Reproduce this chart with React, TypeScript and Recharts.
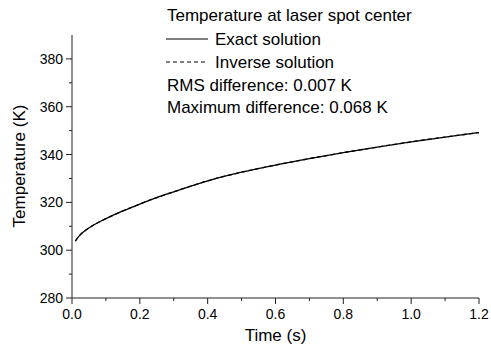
import { Label, Line, LineChart, XAxis, YAxis } from "recharts";

const FONT = "Arial, 'Liberation Sans', Helvetica, sans-serif";
const INK = "#000";
const AXIS = "#222";

// time (s) and temperature (K) at laser spot center
const timeS = [0.01, 0.02, 0.04, 0.06, 0.08, 0.1, 0.15, 0.2, 0.25, 0.3, 0.4, 0.5, 0.6, 0.7, 0.8, 0.9, 1.0, 1.1, 1.2];
const exactK = [303.8, 305.8, 308.3, 310.2, 311.8, 313.2, 316.4, 319.3, 322.0, 324.4, 329.0, 332.6, 335.6, 338.3, 340.8, 343.1, 345.3, 347.3, 349.2];
const inverseK = [303.8, 305.8, 308.3, 310.2, 311.8, 313.2, 316.4, 319.3, 322.0, 324.4, 329.0, 332.6, 335.6, 338.3, 340.8, 343.1, 345.3, 347.3, 349.2];

const xTicks = [0, 0.1, 0.2, 0.3, 0.4, 0.5, 0.6, 0.7, 0.8, 0.9, 1.0, 1.1, 1.2];
const yTicks = [280, 290, 300, 310, 320, 330, 340, 350, 360, 370, 380];

const data = timeS.map((t, i) => ({ t, exact: exactK[i], inverse: inverseK[i] }));

function XTick(props: any) {
  const { x, y, payload } = props;
  const v = payload.value as number;
  const major = Math.round(v * 10) % 2 === 0;
  return (
    <g>
      <line x1={x} x2={x} y1={y} y2={y + (major ? 6 : 3)} stroke={AXIS} />
      {major && (
        <text x={x} y={y + 21} textAnchor="middle" fontSize={14} fontFamily={FONT} fill={INK}>
          {v.toFixed(1)}
        </text>
      )}
    </g>
  );
}

function YTick(props: any) {
  const { x, y, payload } = props;
  const v = payload.value as number;
  const major = v % 20 === 0;
  return (
    <g>
      <line x1={x - (major ? 6 : 3)} x2={x} y1={y} y2={y} stroke={AXIS} />
      {major && (
        <text x={x - 9} y={y + 5} textAnchor="end" fontSize={14} fontFamily={FONT} fill={INK}>
          {v}
        </text>
      )}
    </g>
  );
}

const row = (top: number, left: number) => ({
  position: "absolute" as const,
  top,
  left,
  lineHeight: "23px",
  fontSize: 17,
  whiteSpace: "nowrap" as const,
  color: INK,
});

export default function App() {
  return (
    <div style={{ position: "relative", width: 491, height: 356, background: "#fff", fontFamily: FONT }}>
      <style>{"html, body { margin: 0; padding: 0; overflow: hidden; } svg { overflow: visible; }"}</style>
      <LineChart width={491} height={356} data={data} margin={{ top: 35, right: 12, bottom: 0, left: 0 }}>
        <XAxis
          dataKey="t"
          type="number"
          domain={[0, 1.2]}
          ticks={xTicks}
          interval={0}
          height={58}
          tickSize={0}
          tickMargin={0}
          tickLine={false}
          tick={<XTick />}
          axisLine={{ stroke: AXIS, strokeWidth: 1 }}
          label={{ value: "Time (s)", position: "insideBottom", offset: 15, fill: INK, fontSize: 17, fontFamily: FONT }}
        />
        <YAxis
          type="number"
          domain={[280, 390]}
          ticks={yTicks}
          interval={0}
          width={72}
          tickSize={0}
          tickMargin={0}
          tickLine={false}
          tick={<YTick />}
          axisLine={{ stroke: AXIS, strokeWidth: 1 }}
        >
          <Label
            content={() => (
              <text x={25} y={166} transform="rotate(-90 25 166)" textAnchor="middle" fontSize={17} fontFamily={FONT} fill={INK}>
                Temperature (K)
              </text>
            )}
          />
        </YAxis>
        <Line type="monotone" dataKey="exact" stroke="#000" strokeWidth={1.3} dot={false} isAnimationActive={false} />
        <Line type="monotone" dataKey="inverse" stroke="#000" strokeWidth={1.3} strokeDasharray="4 3" dot={false} isAnimationActive={false} />
      </LineChart>

      <div style={row(4, 167)}>Temperature at laser spot center</div>
      <svg style={{ position: "absolute", top: 30, left: 166 }} width={44} height={40}>
        <line x1={0} x2={42} y1={9} y2={9} stroke="#000" strokeWidth={1.2} />
        <line x1={0} x2={42} y1={32} y2={32} stroke="#000" strokeWidth={1.2} strokeDasharray="4 3" />
      </svg>
      <div style={row(27.5, 215)}>Exact solution</div>
      <div style={row(50.5, 215)}>Inverse solution</div>
      <div style={row(74, 167)}>RMS difference: 0.007 K</div>
      <div style={row(96, 167)}>Maximum difference: 0.068 K</div>
    </div>
  );
}
